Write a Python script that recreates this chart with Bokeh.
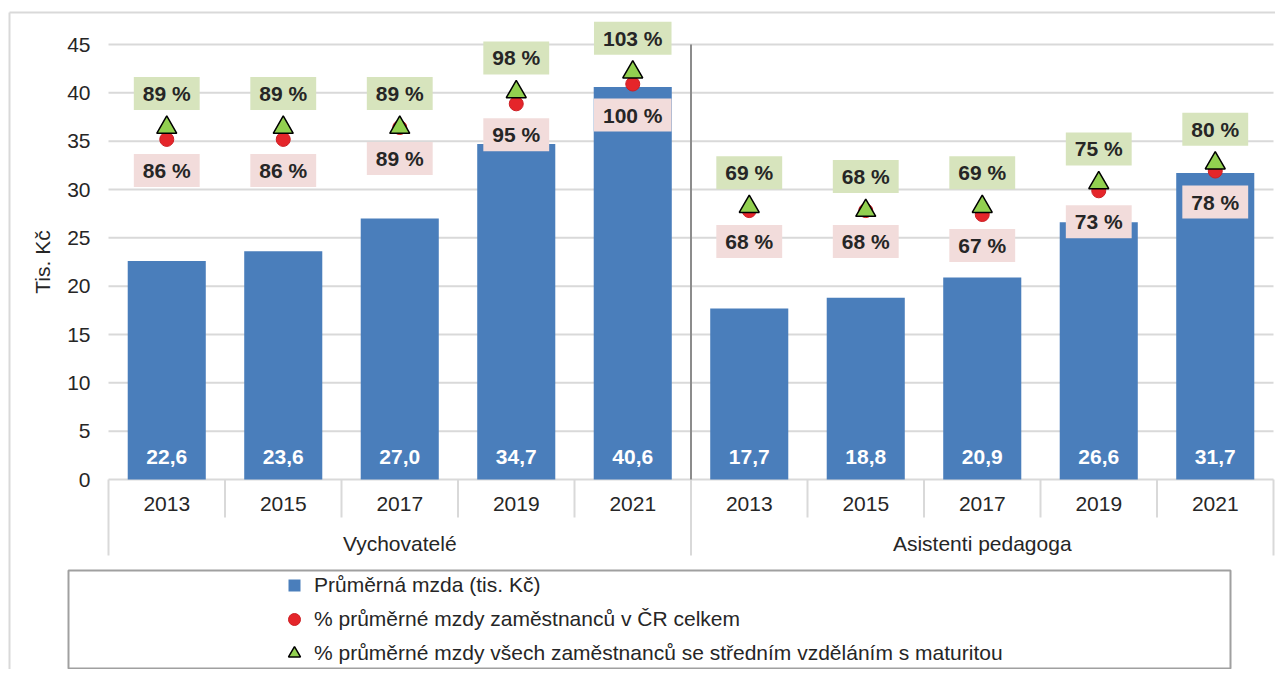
import math
from bokeh.plotting import figure
from bokeh.models import (Range1d, FixedTicker, ColumnDataSource, Legend, LegendItem)
from bokeh.core.properties import value
from bokeh.embed import file_html
from bokeh.resources import INLINE

# ---------------- data ----------------
groups = ["Vychovatelé", "Asistenti pedagoga"]
years = ["2013", "2015", "2017", "2019", "2021"]
wage = [22.6, 23.6, 27.0, 34.7, 40.6, 17.7, 18.8, 20.9, 26.6, 31.7]
pct_cr = [86, 86, 89, 95, 100, 68, 68, 67, 73, 78]
pct_mat = [89, 89, 89, 98, 103, 69, 68, 69, 75, 80]
y_ticks = [0, 5, 10, 15, 20, 25, 30, 35, 40, 45]
y_max = 45
pct_max = 110  # hidden secondary axis maximum
legend_labels = ["Průměrná mzda (tis. Kč)",
                 "% průměrné mzdy zaměstnanců v ČR celkem",
                 "% průměrné mzdy všech zaměstnanců se středním vzděláním s maturitou"]
y_title = "Tis. Kč"

# ---------------- layout constants (pixels) ----------------
FONT = "Liberation Sans"
FS = "21px"
TXT = "#262626"
BAR = "#4a7ebb"
GRID = "#d9d9d9"
W, H = 1275, 669
n = len(wage)
PLOT_L, PLOT_R = 108, 1273      # plot area left/right
ZERO_Y, TOP_Y = 479, 44         # pixel rows of 0 and y_max
CAT_PX = (PLOT_R - PLOT_L) / n
PX = (ZERO_Y - TOP_Y) / y_max


def X(px):
    return (px - PLOT_L) / CAT_PX


def Y(py):
    return (ZERO_Y - py) / PX


x_start, x_end = X(0), X(W)
y_start, y_end = Y(H), Y(0)
k = pct_max / y_max

xs = [i + 0.5 for i in range(n)]
year_labels = years * len(groups)
wage_labels = [f"{v:.1f}".replace(".", ",") for v in wage]
cr_labels = [f"{v} %" for v in pct_cr]
mat_labels = [f"{v} %" for v in pct_mat]
zeros = [0] * n

src = ColumnDataSource(dict(x=xs, wage=wage, cr=pct_cr, mat=pct_mat, zero=zeros,
                            wl=wage_labels, crl=cr_labels, matl=mat_labels, yl=year_labels))

p = figure(width=W, height=H, x_range=Range1d(x_start, x_end), y_range=Range1d(y_start, y_end),
           output_backend="svg", toolbar_location=None, x_axis_location=None,
           min_border=0, min_border_left=0, min_border_right=0, min_border_top=0,
           min_border_bottom=0)
p.title.visible = False
p.outline_line_color = None
p.background_fill_color = "white"
p.border_fill_color = "white"
p.extra_y_ranges = {"pct": Range1d(y_start * k, y_end * k)}
p.xgrid.visible = False
p.ygrid.visible = False

ax = p.yaxis[0]
ax.fixed_location = 0
ax.ticker = FixedTicker(ticks=y_ticks)
ax.axis_line_color = None
ax.major_tick_line_color = None
ax.minor_tick_line_color = None
ax.major_tick_out = 0
ax.major_tick_in = 0
ax.major_label_standoff = 18
ax.major_label_text_font = FONT
ax.major_label_text_font_size = FS
ax.major_label_text_color = TXT

# outer chart border (left / top edges)
p.segment(x0=[X(9), X(9)], y0=[y_start, Y(12)], x1=[X(9), x_end], y1=[Y(12), Y(12)],
          line_color=GRID, line_width=2)

# gridlines
p.segment(x0=[0] * len(y_ticks), y0=y_ticks, x1=[n] * len(y_ticks), y1=y_ticks,
          line_color=GRID, line_width=2)

# bars
bars = p.vbar(x="x", top="wage", bottom="zero", width=0.67, source=src,
              fill_color=BAR, line_color=None)
p.text(x="x", y="zero", text="wl", source=src, y_offset=-23, text_align="center",
       text_baseline="middle", text_color="white", text_font=value(FONT),
       text_font_size=FS, text_font_style="bold")
# square marker used only for the legend swatch of the bar series
sq = p.scatter(x="x", y="zero", source=src, marker="square", size=0,
               fill_color=BAR, line_color=None)

# category table below the axis
bounds = list(range(n + 1))
group_bounds = [0, len(years), n]
inner = [b for b in bounds if b not in group_bounds]
p.segment(x0=inner, y0=[0] * len(inner), x1=inner, y1=[Y(517)] * len(inner),
          line_color=GRID, line_width=2)
p.segment(x0=group_bounds, y0=[0] * 3, x1=group_bounds, y1=[Y(555)] * 3,
          line_color=GRID, line_width=2)
p.segment(x0=[len(years)], y0=[0], x1=[len(years)], y1=[y_max],
          line_color="#8c8c8c", line_width=2)
p.text(x="x", y="zero", text="yl", source=src, y_offset=24, text_align="center",
       text_baseline="middle", text_color=TXT, text_font=value(FONT), text_font_size=FS)
gx = [len(years) * (i + 0.5) for i in range(len(groups))]
p.text(x=gx, y=[0] * len(groups), text=groups, y_offset=64, text_align="center",
       text_baseline="middle", text_color=TXT, text_font=value(FONT), text_font_size=FS)

# markers on hidden secondary axis
red = p.scatter(x="x", y="cr", source=src, y_range_name="pct", marker="circle", size=14,
                fill_color="#e5252a", line_color="#cc1f24", line_width=1)
tri = p.scatter(x="x", y="mat", source=src, y_range_name="pct", marker="triangle", size=20,
                fill_color="#92d050", line_color="black", line_width=1.5)

p.text(x="x", y="mat", text="matl", source=src, y_range_name="pct", y_offset=-34,
       text_align="center", text_baseline="middle", text_color=TXT,
       text_font=value(FONT), text_font_size=FS, text_font_style="bold",
       background_fill_color="#d7e4bd", padding=(9, 5))
p.text(x="x", y="cr", text="crl", source=src, y_range_name="pct", y_offset=31,
       text_align="center", text_baseline="middle", text_color=TXT,
       text_font=value(FONT), text_font_size=FS, text_font_style="bold",
       background_fill_color="#f2dcdb", padding=(9, 5))

# y title
p.text(x=[X(42)], y=[y_max / 2], text=[y_title], angle=math.pi / 2, text_align="center",
       text_baseline="middle", text_color=TXT, text_font=value(FONT), text_font_size=FS)

# legend box + legend
p.quad(left=[X(68)], right=[X(1230)], top=[Y(570)], bottom=[Y(668)],
       fill_color="white", line_color="#a0a0a0", line_width=2)
legend = Legend(items=[LegendItem(label=legend_labels[0], renderers=[sq], index=0),
                       LegendItem(label=legend_labels[1], renderers=[red], index=0),
                       LegendItem(label=legend_labels[2], renderers=[tri], index=0)],
                location=(279, H - 668), orientation="vertical", padding=0, margin=0,
                spacing=4, glyph_width=30, glyph_height=30, label_height=30,
                label_standoff=5, label_text_font=FONT, label_text_font_size=FS,
                label_text_color=TXT, background_fill_alpha=0, border_line_alpha=0)
p.add_layout(legend, "center")

open("out.html", "w").write(file_html(p, INLINE))
